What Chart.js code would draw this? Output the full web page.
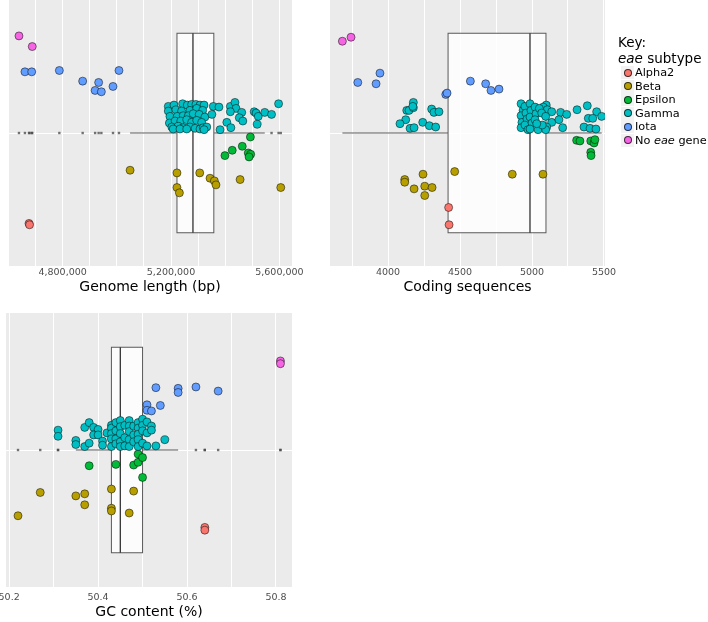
<!DOCTYPE html>
<html>
<head>
<meta charset="utf-8">
<script src="https://cdn.jsdelivr.net/npm/chart.js@4.4.0/dist/chart.umd.min.js"></script>
<style>
  body { margin: 0; width: 708px; height: 622px; background: #fff; position: relative; overflow: hidden; font-family: "DejaVu Sans", sans-serif; }
  canvas { position: absolute; }
  #legend { position: absolute; left: 618px; top: 34px; color: #000; }
  #legend .ttl { font-size: 13.5px; line-height: 16px; }
  #legend .item { font-size: 11.3px; line-height: 13.5px; height: 13.5px; display: flex; align-items: center; padding-left: 3px; white-space: nowrap; }
  #legend .sw { width: 13px; height: 13px; background: #f2f2f2; display: flex; align-items: center; justify-content: center; margin-right: 1px; }
  #legend .dot { width: 6px; height: 6px; border-radius: 50%; border: 0.7px solid rgba(0,0,0,0.7); }
</style>
</head>
<body>
<canvas id="genomeChart" width="330" height="296" style="left:0;top:0"></canvas>
<canvas id="cdsChart" width="300" height="296" style="left:322px;top:0"></canvas>
<canvas id="gcChart" width="340" height="308" style="left:-10px;top:313px"></canvas>
<div id="legend">
  <div class="ttl">Key:</div>
  <div class="ttl"><i>eae</i> subtype</div>
  <div id="legendItems"></div>
</div>
<script>
const subtypes = ['Alpha2', 'Beta', 'Epsilon', 'Gamma', 'Iota', 'No eae gene'];
const colors = ['#F8766D', '#B79F00', '#00BA38', '#00BFC4', '#619CFF', '#F564E3'];

// [value, jitter] per isolate, one array per subtype and panel

// Genome length (bp)
const genomeAlpha2 = [[4676000, -0.68], [4678000, -0.69]];
const genomeBeta = [[5049000, -0.28], [5222000, -0.30], [5222000, -0.41], [5231000, -0.45], [5306000, -0.30],
  [5344000, -0.34], [5360000, -0.36], [5366000, -0.39], [5455000, -0.35], [5605000, -0.41]];
const genomeEpsilon = [[5493000, -0.03], [5426000, -0.13], [5399000, -0.17], [5463000, -0.10], [5485000, -0.15],
  [5494000, -0.16], [5488000, -0.18]];
const genomeGamma = [[5190000, 0.20], [5211000, 0.21], [5243000, 0.22], [5260000, 0.21], [5276000, 0.215],
  [5292000, 0.215], [5307000, 0.21], [5322000, 0.21], [5190000, 0.165], [5218000, 0.175], [5239000, 0.165],
  [5270000, 0.17], [5295000, 0.185], [5317000, 0.17], [5196000, 0.125], [5223000, 0.125], [5245000, 0.13],
  [5264000, 0.13], [5282000, 0.145], [5304000, 0.14], [5325000, 0.12], [5194000, 0.075], [5215000, 0.09],
  [5236000, 0.09], [5258000, 0.10], [5276000, 0.08], [5295000, 0.095], [5313000, 0.08], [5203000, 0.045],
  [5227000, 0.05], [5245000, 0.04], [5270000, 0.045], [5289000, 0.035], [5307000, 0.03], [5319000, 0.04],
  [5208000, 0.03], [5233000, 0.03], [5258000, 0.03], [5356000, 0.20], [5377000, 0.195], [5351000, 0.14],
  [5419000, 0.20], [5436000, 0.23], [5440000, 0.185], [5419000, 0.16], [5461000, 0.155], [5452000, 0.115],
  [5465000, 0.09], [5406000, 0.08], [5421000, 0.04], [5381000, 0.025], [5507000, 0.16], [5514000, 0.15],
  [5522000, 0.125], [5518000, 0.065], [5546000, 0.155], [5571000, 0.14], [5597000, 0.22], [5332000, 0.045],
  [5322000, 0.025]];
const genomeIota = [[4661000, 0.46], [4686000, 0.46], [4788000, 0.47], [4874000, 0.39], [4933000, 0.38],
  [4920000, 0.32], [4943000, 0.31], [4986000, 0.35], [5008000, 0.47]];
const genomeNoEae = [[4639000, 0.73], [4688000, 0.65]];
const genomeBox = [5049000, 5222000, 5281000, 5358000, 5546000]; // whisker, q1, median, q3, whisker
const genomeTicks = [4600000, 4700000, 4800000, 4900000, 5000000, 5100000, 5200000, 5300000, 5400000, 5500000, 5600000];
const genomeLabels = [4800000, 5200000, 5600000];

// Coding sequences
const cdsAlpha2 = [[4421, -0.56], [4424, -0.69]];
const cdsBeta = [[4116, -0.35], [4116, -0.37], [4181, -0.42], [4243, -0.31], [4255, -0.40], [4255, -0.47],
  [4306, -0.41], [4463, -0.29], [4863, -0.31], [5076, -0.31]];
const cdsEpsilon = [[5310, -0.055], [5333, -0.06], [5408, -0.06], [5431, -0.075], [5437, -0.05], [5408, -0.145], [5410, -0.17]];
const cdsGamma = [[4176, 0.23], [4130, 0.17], [4146, 0.17], [4176, 0.19], [4123, 0.10], [4083, 0.07], [4153, 0.035],
  [4181, 0.04], [4241, 0.08], [4287, 0.055], [4331, 0.045], [4303, 0.18], [4319, 0.155], [4354, 0.16], [4172, 0.20],
  [4924, 0.22], [4938, 0.17], [4924, 0.13], [4930, 0.08], [4924, 0.04], [4951, 0.20], [4958, 0.15], [4965, 0.105],
  [4951, 0.06], [4972, 0.025], [4986, 0.22], [4993, 0.17], [4986, 0.12], [5000, 0.075], [4986, 0.03], [5021, 0.195],
  [5028, 0.145], [5021, 0.10], [5042, 0.025], [5099, 0.21], [5078, 0.195], [5106, 0.175], [5137, 0.16], [5051, 0.185],
  [5067, 0.15], [5095, 0.125], [5137, 0.08], [5102, 0.045], [5095, 0.025], [5071, 0.06], [5033, 0.07], [5199, 0.155],
  [5241, 0.14], [5187, 0.10], [5213, 0.04], [5313, 0.175], [5384, 0.205], [5449, 0.16], [5484, 0.125], [5391, 0.11],
  [5422, 0.11], [5361, 0.045], [5403, 0.035], [5444, 0.03]];
const cdsIota = [[3790, 0.38], [3917, 0.37], [3944, 0.45], [4401, 0.29], [4410, 0.30], [4572, 0.39], [4678, 0.37],
  [4715, 0.32], [4771, 0.33]];
const cdsNoEae = [[3683, 0.69], [3743, 0.72]];
const cdsBox = [3683, 4417, 4986, 5097, 5484];
const cdsTicks = [3750, 4000, 4250, 4500, 4750, 5000, 5250, 5500];
const cdsLabels = [4000, 4500, 5000, 5500];

// GC content (%)
const gcAlpha2 = [[50.64, -0.565], [50.64, -0.585]];
const gcBeta = [[50.22, -0.48], [50.27, -0.31], [50.35, -0.335], [50.37, -0.32], [50.37, -0.40], [50.43, -0.285],
  [50.43, -0.425], [50.43, -0.445], [50.48, -0.30], [50.47, -0.46]];
const gcEpsilon = [[50.38, -0.115], [50.44, -0.105], [50.48, -0.11], [50.49, -0.09], [50.49, -0.03], [50.50, -0.055], [50.50, -0.20]];
const gcGamma = [[50.31, 0.145], [50.31, 0.10], [50.35, 0.07], [50.35, 0.04], [50.37, 0.025], [50.38, 0.05],
  [50.37, 0.165], [50.38, 0.20], [50.39, 0.165], [50.40, 0.15], [50.39, 0.11], [50.40, 0.11], [50.41, 0.065],
  [50.41, 0.035], [50.42, 0.125], [50.43, 0.18], [50.43, 0.16], [50.43, 0.12], [50.43, 0.08], [50.43, 0.025],
  [50.44, 0.20], [50.44, 0.14], [50.44, 0.08], [50.44, 0.045], [50.45, 0.215], [50.45, 0.17], [50.45, 0.12],
  [50.45, 0.06], [50.45, 0.025], [50.46, 0.18], [50.46, 0.09], [50.46, 0.03], [50.47, 0.215], [50.47, 0.175],
  [50.47, 0.135], [50.47, 0.075], [50.47, 0.025], [50.48, 0.175], [50.48, 0.11], [50.48, 0.06], [50.49, 0.20],
  [50.49, 0.16], [50.49, 0.115], [50.49, 0.075], [50.49, 0.025], [50.50, 0.225], [50.50, 0.18], [50.50, 0.14],
  [50.50, 0.05], [50.51, 0.205], [50.51, 0.125], [50.51, 0.03], [50.52, 0.175], [50.52, 0.145], [50.53, 0.03], [50.55, 0.075]];
const gcIota = [[50.53, 0.455], [50.58, 0.45], [50.58, 0.42], [50.62, 0.46], [50.67, 0.43], [50.51, 0.33],
  [50.54, 0.325], [50.51, 0.29], [50.52, 0.285]];
const gcNoEae = [[50.81, 0.65], [50.81, 0.63]];
const gcBox = [50.35, 50.43, 50.45, 50.50, 50.58];
const gcTicks = [50.2, 50.3, 50.4, 50.5, 50.6, 50.7, 50.8];
const gcLabels = [50.2, 50.4, 50.6, 50.8];

const FONT = 'DejaVu Sans';

// grey panel behind the grid
const panelBg = {
  id: 'panelBg',
  beforeDraw(chart) {
    const a = chart.chartArea, ctx = chart.ctx;
    ctx.save();
    ctx.fillStyle = '#EBEBEB';
    ctx.fillRect(a.left, a.top, a.right - a.left, a.bottom - a.top);
    ctx.restore();
  }
};

// horizontal boxplot drawn through the chart scales
const boxPlot = {
  id: 'boxPlot',
  beforeDatasetsDraw(chart, args, opts) {
    const x = chart.scales.x, y = chart.scales.y, ctx = chart.ctx;
    const [lo, q1, med, q3, hi] = opts.stats.map(v => x.getPixelForValue(v));
    const yc = y.getPixelForValue(0), yt = y.getPixelForValue(0.75), yb = y.getPixelForValue(-0.75);
    ctx.save();
    ctx.strokeStyle = '#5a5a5a';
    ctx.lineWidth = 1;
    ctx.beginPath();
    ctx.moveTo(lo, yc); ctx.lineTo(q1, yc);
    ctx.moveTo(q3, yc); ctx.lineTo(hi, yc);
    ctx.stroke();
    ctx.fillStyle = 'rgba(255,255,255,0.82)';
    ctx.fillRect(q1, yt, q3 - q1, yb - yt);
    ctx.strokeRect(q1, yt, q3 - q1, yb - yt);
    ctx.strokeStyle = '#333';
    ctx.lineWidth = 1.3;
    ctx.beginPath();
    ctx.moveTo(med, yt); ctx.lineTo(med, yb);
    ctx.stroke();
    ctx.restore();
  }
};

function makeChart(id, groups, box, min, max, ticks, labels, fmt, title, opts) {
  const datasets = groups.map((g, i) => ({
    label: subtypes[i],
    data: g.map(p => ({ x: p[0], y: p[1] })),
    backgroundColor: colors[i],
    borderColor: 'rgba(0,0,0,0.7)',
    borderWidth: 0.7,
    pointRadius: 4,
    pointHoverRadius: 4
  }));
  // boxplot outliers sit on the centre line
  const all = groups.flat().map(p => p[0]);
  datasets.push({
    label: 'outliers',
    data: all.filter(v => v < box[0] || v > box[4]).map(v => ({ x: v, y: 0 })),
    pointStyle: 'rect',
    pointRadius: 1.7,
    backgroundColor: 'rgba(70,70,70,0.75)',
    borderWidth: 0
  });
  // draw Gamma before the rarer subtypes
  const order = [3, 0, 1, 2, 4, 5];
  datasets.forEach((d, i) => { d.order = i < 6 ? order.indexOf(i) : 10; });

  new Chart(document.getElementById(id), {
    type: 'scatter',
    data: { datasets },
    plugins: [panelBg, boxPlot],
    options: {
      responsive: false,
      animation: false,
      events: [],
      layout: { padding: opts.padding, autoPadding: false },
      plugins: {
        legend: { display: false },
        tooltip: { enabled: false },
        boxPlot: { stats: box }
      },
      scales: {
        x: {
          type: 'linear', min, max,
          afterBuildTicks: s => { s.ticks = ticks.map(v => ({ value: v })); },
          afterFit: s => { s.height = opts.axisHeight; },
          grid: { color: '#fff', lineWidth: 1, drawTicks: false },
          border: { display: false },
          ticks: {
            padding: opts.tickPad, color: '#4d4d4d', autoSkip: false, maxRotation: 0,
            font: { family: FONT, size: 9.5 },
            callback: v => labels.includes(v) ? fmt(v) : ''
          },
          title: { display: true, text: title, color: '#000', font: { family: FONT, size: 14 }, padding: 0 }
        },
        y: {
          type: 'linear', min: -1, max: 1,
          afterBuildTicks: s => { s.ticks = [{ value: 0 }]; },
          afterFit: s => { s.width = 0; },
          ticks: { display: false },
          grid: { color: '#fff', lineWidth: 1, drawTicks: false },
          border: { display: false }
        }
      }
    }
  });
}

document.addEventListener('DOMContentLoaded', function() {
  makeChart('genomeChart',
    [genomeAlpha2, genomeBeta, genomeEpsilon, genomeGamma, genomeIota, genomeNoEae],
    genomeBox, 4598500, 5646500, genomeTicks, genomeLabels,
    v => v.toLocaleString('en-US'), 'Genome length (bp)',
    { padding: { left: 8, right: 38, top: 0, bottom: 0 }, axisHeight: 30, tickPad: 1 });

  makeChart('cdsChart',
    [cdsAlpha2, cdsBeta, cdsEpsilon, cdsGamma, cdsIota, cdsNoEae],
    cdsBox, 3597, 5507, cdsTicks, cdsLabels,
    v => String(v), 'Coding sequences',
    { padding: { left: 8, right: 17, top: 0, bottom: 0 }, axisHeight: 30, tickPad: 1 });

  makeChart('gcChart',
    [gcAlpha2, gcBeta, gcEpsilon, gcGamma, gcIota, gcNoEae],
    gcBox, 50.193, 50.836, gcTicks, gcLabels,
    v => v.toFixed(1), 'GC content (%)',
    { padding: { left: 16, right: 38, top: 0, bottom: 0 }, axisHeight: 34, tickPad: 5 });

  // legend
  const items = document.getElementById('legendItems');
  subtypes.forEach((name, i) => {
    const text = name.replace('eae', '<i>eae</i>');
    items.innerHTML += `<div class="item"><span class="sw"><span class="dot" style="background:${colors[i]}"></span></span><span>${text}</span></div>`;
  });
});
</script>
</body>
</html>
